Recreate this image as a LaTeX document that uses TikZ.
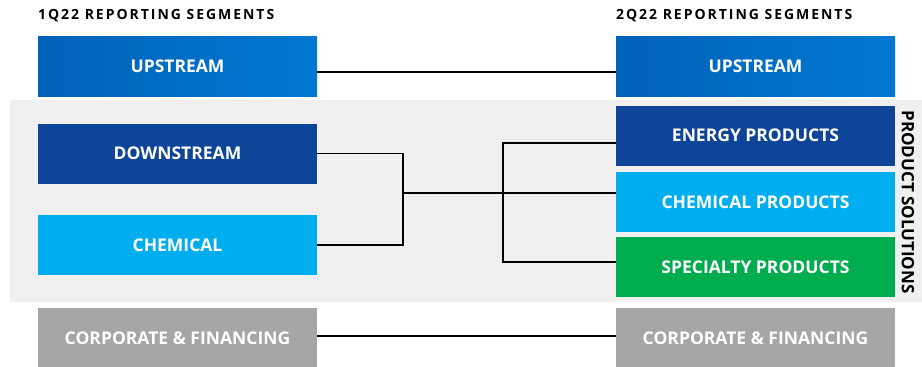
\documentclass[tikz,border=0pt]{standalone}
\usepackage{fontspec}
\setmainfont{Open Sans}
\newfontfamily\headfont[LetterSpace=14]{Open Sans}
\usetikzlibrary{positioning}

\definecolor{upblue}{HTML}{0062B8}
\definecolor{uplight}{HTML}{0078D2}
\definecolor{darkblue}{HTML}{0E4599}
\definecolor{skyblue}{HTML}{00AEEF}
\definecolor{segreen}{HTML}{00AD4E}
\definecolor{corpgray}{HTML}{A6A6A6}
\definecolor{bandgray}{HTML}{F0F0F0}

\tikzstyle{segment}=[rectangle,minimum width=279pt,minimum height=60pt,inner sep=0pt,
  text=white,font=\bfseries\fontsize{17.5}{21}\selectfont]
\tikzstyle{header}=[anchor=west,inner sep=0pt,font=\headfont\bfseries\fontsize{14}{16}\selectfont]
\tikzstyle{conn}=[line width=1.6pt,black]

\begin{document}
\begin{tikzpicture}[x=1pt,y=-1pt]
  \useasboundingbox (0,0) rectangle (922,367);
  % product solutions band
  \fill[bandgray] (10,100) rectangle (922,302);
  \node (ps) [rotate=-90,font=\bfseries\fontsize{17}{20}\selectfont] at (908,202) {PRODUCT SOLUTIONS};

  % headers
  \node (h1) [header] at (38,16) {1Q22 REPORTING SEGMENTS};
  \node (h2) [header] at (616,16) {2Q22 REPORTING SEGMENTS};

  % 1Q22 segments
  \node (up1) [segment,left color=upblue,right color=uplight] at (177.5,66) {UPSTREAM};
  \node (dn1) [segment,fill=darkblue] at (177.5,153.5) {DOWNSTREAM};
  \node (ch1) [segment,fill=skyblue] at (177.5,245) {CHEMICAL};
  \node (co1) [segment,fill=corpgray] at (177.5,338) {CORPORATE \& FINANCING};

  % 2Q22 segments
  \node (up2) [segment,left color=upblue,right color=uplight] at (755.5,66) {UPSTREAM};
  \node (en2) [segment,fill=darkblue] at (755.5,135.5) {ENERGY PRODUCTS};
  \node (cp2) [segment,fill=skyblue] at (755.5,202) {CHEMICAL PRODUCTS};
  \node (sp2) [segment,fill=segreen] at (755.5,267) {SPECIALTY PRODUCTS};
  \node (co2) [segment,fill=corpgray] at (755.5,338) {CORPORATE \& FINANCING};

  \coordinate (merge) at (403,193);
  \coordinate (split) at (503,193);

  \draw[conn] ([yshift=-6pt]up1.east) -- ([yshift=-6pt]up2.west);
  \draw[conn] (dn1.east) -| (merge) |- (ch1.east);
  \draw[conn] (merge) -- (cp2.west |- merge);
  \draw[conn] ([yshift=-7.5pt]en2.west) -| (split) |- ([yshift=5pt]sp2.west);
  \draw[conn] ([yshift=2pt]co1.east) -- ([yshift=2pt]co2.west);
\end{tikzpicture}
\end{document}
